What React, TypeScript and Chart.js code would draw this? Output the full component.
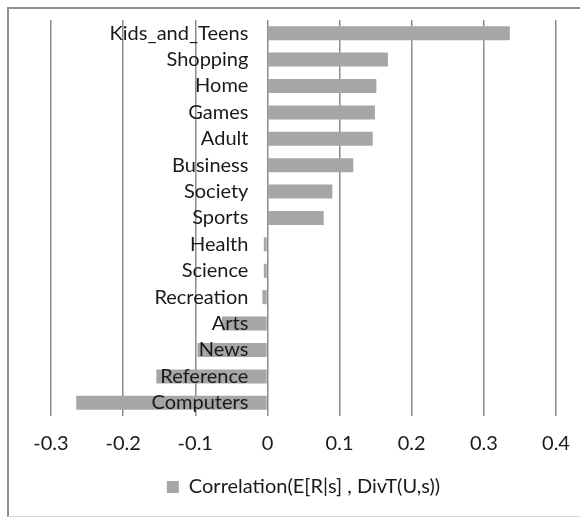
import React, { useEffect, useRef } from "react";
import { Chart, registerables } from "chart.js";

Chart.register(...registerables);

const categories: string[] = [
  "Kids_and_Teens",
  "Shopping",
  "Home",
  "Games",
  "Adult",
  "Business",
  "Society",
  "Sports",
  "Health",
  "Science",
  "Recreation",
  "Arts",
  "News",
  "Reference",
  "Computers",
];

const correlation: number[] = [
  0.336, 0.167, 0.151, 0.149, 0.146, 0.119, 0.09, 0.078, -0.005, -0.005,
  -0.007, -0.063, -0.097, -0.154, -0.265,
];

const seriesLabel = "Correlation(E[R|s] , DivT(U,s))";
const xMin = -0.3;
const xMax = 0.4;
const xStep = 0.1;

const FONT = "Lato";
const FONT_SIZE = 20;
const TEXT_COLOR = "#1a1a1a";

// Draws the category labels next to the zero line, on top of the bars,
// positioned through the chart's own x and y scales.
const zeroAxisLabels = {
  id: "zeroAxisLabels",
  afterDatasetsDraw(chart: any) {
    const { ctx, scales } = chart;
    const xScale = scales.x;
    const yScale = scales.y;
    const x0 = xScale.getPixelForValue(0) - 19;
    ctx.save();
    ctx.font = `${FONT_SIZE}px ${FONT}`;
    ctx.fillStyle = TEXT_COLOR;
    ctx.textAlign = "right";
    ctx.textBaseline = "middle";
    categories.forEach((label, i) => {
      ctx.fillText(label, x0, yScale.getPixelForValue(i));
    });
    ctx.restore();
  },
};

export default function App() {
  const canvasRef = useRef<HTMLCanvasElement | null>(null);

  useEffect(() => {
    const canvas = canvasRef.current;
    if (!canvas) return;
    const chart = new Chart(canvas, {
      type: "bar",
      data: {
        labels: categories,
        datasets: [
          {
            label: seriesLabel,
            data: correlation,
            backgroundColor: "#a6a6a6",
            borderWidth: 0,
            barPercentage: 0.53,
            categoryPercentage: 1,
          },
        ],
      },
      options: {
        indexAxis: "y",
        responsive: false,
        animation: false,
        devicePixelRatio: 1,
        layout: { padding: { left: 51, right: 24, top: 20, bottom: 13 } },
        scales: {
          x: {
            type: "linear",
            min: xMin,
            max: xMax,
            ticks: {
              stepSize: xStep,
              padding: 8,
              color: TEXT_COLOR,
              font: { family: FONT, size: FONT_SIZE },
            },
            grid: {
              color: "#8c8c8c",
              lineWidth: 1.5,
              drawTicks: true,
              tickLength: 8,
              tickColor: "rgba(0,0,0,0)",
            },
            border: { display: false },
          },
          y: {
            type: "category",
            display: false,
            grid: { display: false },
          },
        },
        plugins: {
          legend: {
            position: "bottom",
            labels: {
              boxWidth: 12,
              boxHeight: 12,
              padding: 13,
              color: TEXT_COLOR,
              font: { family: FONT, size: FONT_SIZE },
            },
          },
          tooltip: { enabled: false },
        },
      },
      plugins: [zeroAxisLabels],
    });
    return () => chart.destroy();
  }, []);

  return (
    <div
      style={{
        position: "fixed",
        left: 0,
        top: 0,
        width: 580,
        height: 520,
        background: "#ffffff",
        overflow: "hidden",
      }}
    >
      <div
        style={{
          position: "absolute",
          left: 7,
          top: 7,
          width: 590,
          height: 510,
          borderLeft: "2px solid #909090",
          borderTop: "2px solid #909090",
          borderBottom: "1px solid #d8d8d8",
          boxSizing: "border-box",
        }}
      />
      <canvas
        ref={canvasRef}
        width={580}
        height={520}
        style={{ position: "absolute", left: 0, top: 0, width: 580, height: 520 }}
      />
    </div>
  );
}
